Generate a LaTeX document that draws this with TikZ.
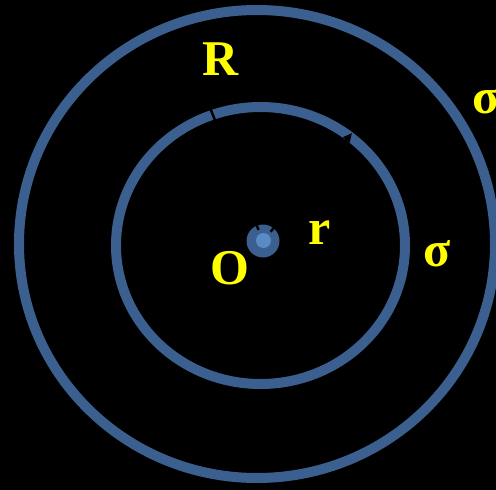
\documentclass[tikz,border=0pt]{standalone}
\usepackage{fontspec}
\setmainfont{Liberation Serif}
\usetikzlibrary{arrows.meta}
\definecolor{ringblue}{HTML}{3B5F8E}
\definecolor{dotlight}{HTML}{5B8BC4}
\definecolor{labelyellow}{HTML}{FFFF00}

\begin{document}
\begin{tikzpicture}[x=1pt, y=-1pt,
    ring/.style={draw=ringblue, line width=10pt},
    dot/.style={circle, inner sep=0pt},
    lbl/.style={text=labelyellow, font=\fontsize{50}{50}\selectfont\bfseries, inner sep=0pt},
    radius line/.style={draw=black, line width=2.5pt, shorten <=12pt,
                        -{Triangle[length=9pt, width=8pt]}}]
  \fill[black] (0,0) rectangle (496,490);
  \useasboundingbox (0,0) rectangle (496,490);
  % the two shells
  \draw[ring] (257,244) ellipse [x radius=238, y radius=234];
  \draw[ring] (260.5,245.5) ellipse [x radius=144.5, y radius=138.5];
  % centre and radii
  \node[dot, fill=ringblue, minimum size=33pt] (centre) at (263,241) {};
  \coordinate (tipR) at (201,85);
  \coordinate (tipr) at (352,133);
  \draw[radius line] (centre.center) -- (tipR);
  \draw[radius line] (centre.center) -- (tipr);
  \node[dot, fill=dotlight, minimum size=15pt] (core) at (263.5,240.5) {};
  % labels
  \node[lbl] (labR) at (221,59) {R};
  \node[lbl] (labO) at (230,268) {O};
  \node[lbl] (labr) at (320,233) {r};
  \node[lbl] (siginner) at (437,254) {σ};
  \node[lbl] (sigouter) at (486,101) {σ};
\end{tikzpicture}
\end{document}
